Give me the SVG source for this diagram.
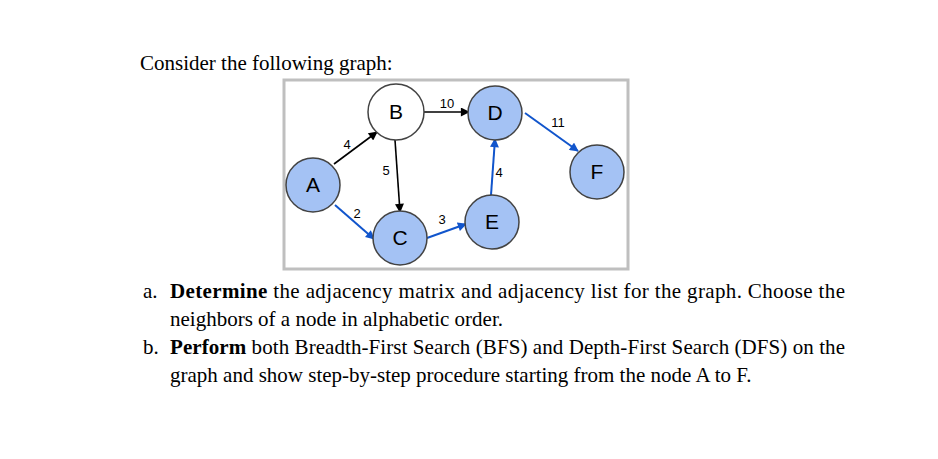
<svg xmlns="http://www.w3.org/2000/svg" width="938" height="459" viewBox="0 0 938 459">
<style>
.t{font-family:"Liberation Serif","Times New Roman",serif;font-size:21px;fill:#000}
.b{font-weight:bold}
.node circle{stroke:#434343;stroke-width:1.5}
.blue{fill:#a4c2f4}
.white{fill:#fff}
.nl{font-family:"Liberation Sans",Arial,sans-serif;font-size:21px;fill:#000;text-anchor:middle}
.el{font-family:"Liberation Sans",Arial,sans-serif;font-size:13px;fill:#000;text-anchor:middle}
.k{stroke:#000;stroke-width:1.6;fill:none;marker-end:url(#ak)}
.u{stroke:#1155cc;stroke-width:2;fill:none;marker-end:url(#au)}
</style>
<defs>
<marker id="ak" viewBox="0 0 10 10" refX="9" refY="5" markerWidth="10" markerHeight="9" markerUnits="userSpaceOnUse" orient="auto"><path d="M0,0L10,5L0,10z" fill="#000"/></marker>
<marker id="au" viewBox="0 0 10 10" refX="9" refY="5" markerWidth="10" markerHeight="9" markerUnits="userSpaceOnUse" orient="auto"><path d="M0,0L10,5L0,10z" fill="#1155cc"/></marker>
</defs>
<rect width="938" height="459" fill="#fff"/>
<text class="t" x="140" y="70">Consider the following graph:</text>
<rect x="284" y="80" width="344" height="189" fill="#fff" stroke="#bfbfbf" stroke-width="3"/>
<g id="connectors">
<line class="k" x1="334" y1="164" x2="377" y2="132"/>
<line class="u" x1="335" y1="205" x2="374" y2="239"/>
<line class="k" x1="395" y1="140" x2="400" y2="212"/>
<line class="k" x1="423" y1="112" x2="469" y2="112"/>
<line class="u" x1="427" y1="238" x2="466" y2="224"/>
<line class="u" x1="491" y1="195" x2="495" y2="139"/>
<line class="u" x1="525" y1="113" x2="578" y2="151"/>
<text class="el" x="347" y="149">4</text>
<text class="el" x="357" y="218">2</text>
<text class="el" x="386" y="175">5</text>
<text class="el" x="447" y="108">10</text>
<text class="el" x="442" y="224">3</text>
<text class="el" x="499" y="177">4</text>
<text class="el" x="558" y="127">11</text>
</g>
<g id="node-A" class="node"><circle class="blue" cx="313" cy="185" r="27"/><text class="nl" x="313" y="192">A</text></g>
<g id="node-B" class="node"><circle class="white" cx="396" cy="112" r="28"/><text class="nl" x="396" y="119">B</text></g>
<g id="node-C" class="node"><circle class="blue" cx="400" cy="238" r="27"/><text class="nl" x="400" y="245">C</text></g>
<g id="node-D" class="node"><circle class="blue" cx="495" cy="113" r="27"/><text class="nl" x="495" y="120">D</text></g>
<g id="node-E" class="node"><circle class="blue" cx="492" cy="222" r="27"/><text class="nl" x="492" y="229">E</text></g>
<g id="node-F" class="node"><circle class="blue" cx="597" cy="172" r="27"/><text class="nl" x="597" y="179">F</text></g>
<text class="t" x="143" y="298">a.</text>
<text class="t" x="170" y="298" textLength="675" lengthAdjust="spacing"><tspan class="b">Determine</tspan> the adjacency matrix and adjacency list for the graph. Choose the</text>
<text class="t" x="170" y="326">neighbors of a node in alphabetic order.</text>
<text class="t" x="143" y="354">b.</text>
<text class="t" x="170" y="354" textLength="675" lengthAdjust="spacing"><tspan class="b">Perform</tspan> both Breadth-First Search (BFS) and Depth-First Search (DFS) on the</text>
<text class="t" x="170" y="382">graph and show step-by-step procedure starting from the node A to F.</text>
</svg>
